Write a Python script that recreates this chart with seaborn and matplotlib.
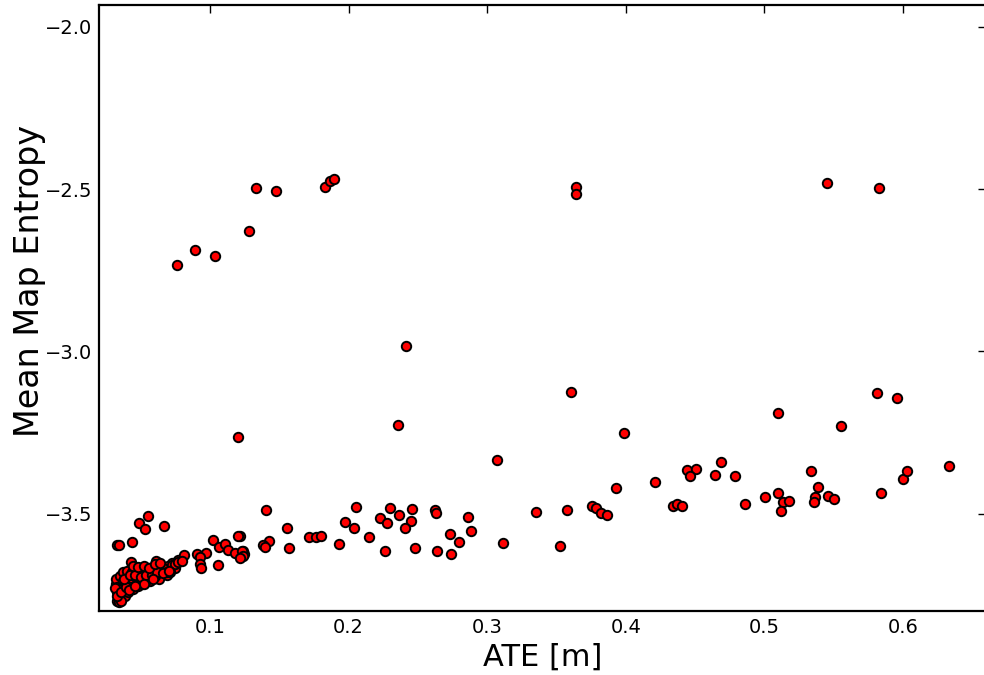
import matplotlib
matplotlib.use("Agg")
import matplotlib.pyplot as plt
import seaborn as sns
import pandas as pd

# ---- data ----
ate_outliers = [0.0761, 0.0891, 0.1033, 0.1280, 0.1329, 0.1473, 0.1827, 0.1863, 0.1896, 0.1203,
                0.2413, 0.364, 0.364, 0.545, 0.583,
                0.2354, 0.3604, 0.3987, 0.3072, 0.5096, 0.5551, 0.5811, 0.5955]
ent_outliers = [-2.733, -2.689, -2.707, -2.629, -2.498, -2.506, -2.493, -2.475, -2.470, -3.265,
                -2.985, -2.495, -2.514, -2.480, -2.497,
                -3.227, -3.124, -3.253, -3.335, -3.190, -3.230, -3.127, -3.144]

ate_mid = [0.1403, 0.2055, 0.2298, 0.2459, 0.2620, 0.2628, 0.2859, 0.3354, 0.3575,
           0.3756, 0.3785, 0.3818, 0.3862, 0.3927, 0.2226, 0.2276, 0.2365, 0.2452, 0.2404,
           0.1975, 0.2038, 0.1557, 0.1427, 0.1384, 0.1398, 0.1567, 0.1711, 0.1766, 0.1800,
           0.1930, 0.2149, 0.2262, 0.2476, 0.2639, 0.2740, 0.2729, 0.2796, 0.2885, 0.3116,
           0.3523, 0.1215, 0.1235, 0.1244, 0.1215]
ent_mid = [-3.488, -3.480, -3.483, -3.486, -3.490, -3.497, -3.510, -3.496, -3.488,
           -3.476, -3.484, -3.498, -3.504, -3.422, -3.513, -3.529, -3.504, -3.524, -3.543,
           -3.527, -3.545, -3.544, -3.584, -3.597, -3.603, -3.605, -3.573, -3.573, -3.568,
           -3.595, -3.573, -3.616, -3.607, -3.614, -3.624, -3.564, -3.588, -3.552, -3.592,
           -3.601, -3.568, -3.614, -3.625, -3.630]

ate_right = [0.4211, 0.4439, 0.4509, 0.4461, 0.4685, 0.4641, 0.4790, 0.4338, 0.4372, 0.4405,
             0.4858, 0.5007, 0.5100, 0.5132, 0.5175, 0.5118, 0.5336, 0.5387, 0.5368, 0.5360,
             0.5459, 0.5502, 0.5844, 0.5998, 0.6027, 0.6332]
ent_right = [-3.403, -3.365, -3.363, -3.385, -3.341, -3.382, -3.385, -3.476, -3.471, -3.476,
             -3.470, -3.450, -3.435, -3.465, -3.462, -3.493, -3.370, -3.418, -3.448, -3.465,
             -3.446, -3.455, -3.435, -3.393, -3.368, -3.352]

ate_cluster = [0.0326, 0.0340, 0.0438, 0.0489, 0.0532, 0.0549, 0.0669, 0.0429, 0.0609,
               0.0723, 0.0768, 0.0813, 0.0748, 0.0689, 0.0633,
               0.0903, 0.0970, 0.1023, 0.1062, 0.1109, 0.1127, 0.1199,
               0.0927, 0.0927, 0.0932, 0.1054, 0.1179, 0.1228, 0.1239, 0.1215,
               0.0321, 0.0326, 0.0337, 0.0321, 0.0349, 0.0373, 0.0398, 0.0434, 0.0458, 0.0482,
               0.0506, 0.0542, 0.0566, 0.0590, 0.0626, 0.0650, 0.0674, 0.0698, 0.0723, 0.0746,
               0.0770, 0.0795,
               0.0326, 0.0337, 0.0349, 0.0362, 0.0373, 0.0385, 0.0409, 0.0434, 0.0445, 0.0470,
               0.0494, 0.0518, 0.0554, 0.0566, 0.0602,
               0.0349, 0.0373, 0.0398, 0.0421, 0.0445, 0.0482, 0.0506, 0.0530,
               0.0337, 0.0362, 0.0385, 0.0409,
               0.0566, 0.0662, 0.0686, 0.0710,
               0.0315, 0.0330, 0.0345, 0.0360, 0.0331, 0.0355, 0.0392, 0.0415,
               0.0380, 0.0420, 0.0460, 0.0500, 0.0540, 0.0580, 0.0620, 0.0660, 0.0700,
               0.0440, 0.0480, 0.0520, 0.0560, 0.0600, 0.0640, 0.0590, 0.0520, 0.0455]
ent_cluster = [-3.597, -3.597, -3.586, -3.528, -3.546, -3.507, -3.538, -3.650, -3.645,
               -3.653, -3.643, -3.628, -3.669, -3.689, -3.700,
               -3.625, -3.622, -3.581, -3.602, -3.595, -3.611, -3.569,
               -3.635, -3.654, -3.668, -3.658, -3.622, -3.614, -3.631, -3.638,
               -3.717, -3.743, -3.763, -3.702, -3.691, -3.681, -3.676, -3.679, -3.676, -3.681,
               -3.681, -3.676, -3.681, -3.676, -3.669, -3.666, -3.666, -3.662, -3.658, -3.655,
               -3.650, -3.645,
               -3.727, -3.748, -3.737, -3.722, -3.707, -3.712, -3.712, -3.702, -3.712, -3.702,
               -3.707, -3.696, -3.696, -3.707, -3.691,
               -3.758, -3.748, -3.732, -3.727, -3.732, -3.722, -3.717, -3.712,
               -3.763, -3.758, -3.753, -3.743,
               -3.669, -3.669, -3.679, -3.679,
               -3.730, -3.768, -3.772, -3.770, -3.755, -3.740, -3.725, -3.735,
               -3.700, -3.690, -3.688, -3.694, -3.690, -3.688, -3.680, -3.684, -3.676,
               -3.660, -3.665, -3.662, -3.668, -3.656, -3.652, -3.700, -3.718, -3.722]

df = pd.DataFrame({
    "ATE": ate_outliers + ate_mid + ate_right + ate_cluster,
    "Entropy": ent_outliers + ent_mid + ent_right + ent_cluster,
})

sns.set_style("white")
plt.rcParams["font.family"] = ["DejaVu Sans"]
plt.rcParams["text.color"] = "black"
plt.rcParams["axes.labelcolor"] = "black"

fig = plt.figure(figsize=(9.84, 6.75), dpi=100)
ax = fig.add_axes([99.3 / 984, 64 / 675, 886.7 / 984, 606 / 675])

sns.scatterplot(data=df, x="ATE", y="Entropy", ax=ax, color="#ff0000",
                edgecolor="black", linewidth=1.4, s=46, zorder=3, legend=False)

ax.set_xlim(0.02, 0.66)
ax.set_ylim(-3.8, -1.933)
ax.set_xticks([0.1, 0.2, 0.3, 0.4, 0.5, 0.6])
ax.set_yticks([-3.5, -3.0, -2.5, -2.0])
ax.set_xticklabels(["0.1", "0.2", "0.3", "0.4", "0.5", "0.6"])
ax.set_yticklabels(["\u22123.5", "\u22123.0", "\u22122.5", "\u22122.0"])
ax.tick_params(direction="in", length=6, width=1, top=True, right=True,
               labelsize=14, pad=5, colors="black", labelcolor="black")
for sp in ax.spines.values():
    sp.set_visible(True)
    sp.set_linewidth(1.6)
    sp.set_color("black")

ax.set_xlabel("ATE [m]", fontsize=22, color="black")
ax.set_ylabel("Mean Map Entropy", fontsize=24, color="black")
ax.xaxis.set_label_coords(0.5, -0.052)
ax.yaxis.set_label_coords(-0.060, 0.545)

fig.savefig("out.png", dpi=100, facecolor="white")
